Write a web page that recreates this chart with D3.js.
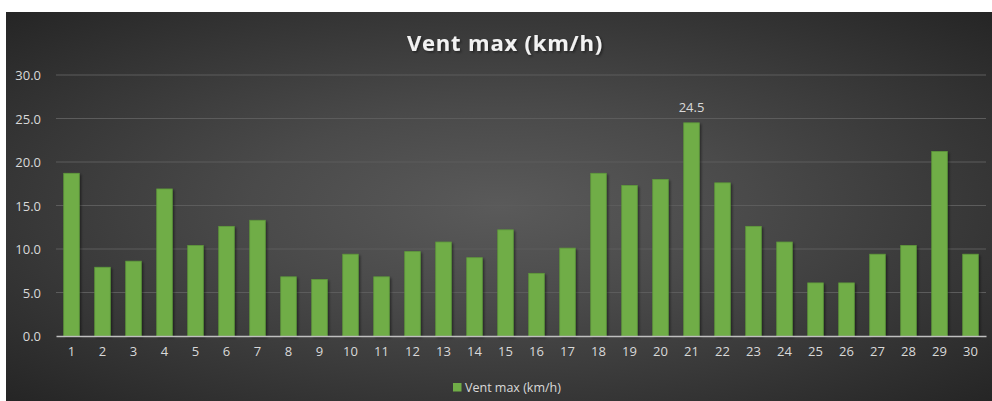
<!DOCTYPE html>
<html>
<head>
<meta charset="utf-8">
<script src="https://cdn.jsdelivr.net/npm/d3@7"></script>
<style>
  body { margin: 0; background: #fff; }
  svg { display: block; }
  text { font-family: "Open Sans", "Noto Sans", sans-serif; }
</style>
</head>
<body>
<svg></svg>
<script>
let width = 992;
let height = 401;

// days of the month and max wind (km/h)
let days = d3.range(1, 31).map(String);
let windMax = [18.7, 7.9, 8.6, 16.9, 10.4, 12.6, 13.3, 6.8, 6.5, 9.4,
               6.8, 9.7, 10.8, 9.0, 12.2, 7.2, 10.1, 18.7, 17.3, 18.0,
               24.5, 17.6, 12.6, 10.8, 6.1, 6.1, 9.4, 10.4, 21.2, 9.4];
let yTicks = [0, 5, 10, 15, 20, 25, 30];
let labelled = ["21"];
let seriesName = "Vent max (km/h)";

let svg = d3.select("svg")
            .attr("width", width)
            .attr("height", height);

let defs = svg.append("defs");
let grad = defs.append("radialGradient")
               .attr("id", "bg")
               .attr("cx", "50%").attr("cy", "50%").attr("r", "72%");
grad.append("stop").attr("offset", "0%").attr("stop-color", "#5a5a5a");
grad.append("stop").attr("offset", "35%").attr("stop-color", "#4a4a4a");
grad.append("stop").attr("offset", "100%").attr("stop-color", "#242424");

let shadow = defs.append("filter").attr("id", "shadow")
                 .attr("x", "-20%").attr("y", "-20%").attr("width", "160%").attr("height", "160%");
shadow.append("feDropShadow")
      .attr("dx", 1.5).attr("dy", 1.5).attr("stdDeviation", 1.2)
      .attr("flood-color", "#000").attr("flood-opacity", 0.45);

// chart area
svg.append("rect")
   .attr("x", 6).attr("y", 12)
   .attr("width", width - 6).attr("height", height - 12)
   .attr("fill", "url(#bg)");

let margin = { left: 56, right: 6, top: 75, bottom: 65 };

let xScale = d3.scaleBand()
               .domain(days)
               .range([margin.left, width - margin.right])
               .paddingInner(0.5)
               .paddingOuter(0.25);

let yScale = d3.scaleLinear()
               .domain([0, 30])
               .range([height - margin.bottom, margin.top]);

// gridlines
svg.append("g")
   .selectAll("line")
   .data(yTicks.slice(1))
   .enter()
   .append("line")
   .attr("x1", margin.left).attr("x2", width - margin.right)
   .attr("y1", (d) => yScale(d)).attr("y2", (d) => yScale(d))
   .attr("stroke", "#5c5c5c")
   .attr("stroke-width", 1);

// y axis
let yAxis = svg.append("g")
   .attr("transform", "translate(" + (margin.left - 12) + ",0)")
   .call(d3.axisLeft(yScale).tickValues(yTicks).tickFormat(d3.format(".1f")).tickSize(0));
yAxis.select(".domain").remove();
yAxis.selectAll("text")
     .attr("fill", "#d9d9d9")
     .attr("font-size", "13px")
     .attr("font-family", "'Open Sans', sans-serif")
     .attr("dy", "0.35em");

// bars
svg.append("g")
   .selectAll("rect")
   .data(windMax)
   .enter()
   .append("rect")
   .attr("x", (d, i) => xScale(days[i]))
   .attr("y", (d) => yScale(d))
   .attr("width", xScale.bandwidth())
   .attr("height", (d) => yScale(0) - yScale(d))
   .attr("fill", "#70ad47")
   .attr("stroke", "#5f9a3b")
   .attr("stroke-width", 0.8)
   .attr("filter", "url(#shadow)");

// x axis
let xAxis = svg.append("g")
   .attr("transform", "translate(0," + yScale(0) + ")")
   .call(d3.axisBottom(xScale).tickSize(0).tickPadding(11));
xAxis.select(".domain")
     .attr("stroke", "#bfbfbf")
     .attr("stroke-width", 1.5);
xAxis.selectAll("text")
     .attr("fill", "#d9d9d9")
     .attr("font-size", "13px")
     .attr("font-family", "'Open Sans', sans-serif");

// data label
svg.append("g")
   .selectAll("text")
   .data(windMax.filter((d, i) => labelled.includes(days[i])))
   .enter()
   .append("text")
   .attr("x", (d) => xScale(days[windMax.indexOf(d)]) + xScale.bandwidth() / 2)
   .attr("y", (d) => yScale(d) - 11)
   .attr("text-anchor", "middle")
   .attr("fill", "#d9d9d9")
   .attr("font-size", "13px")
   .text((d) => d.toFixed(1));

// title
svg.append("text")
   .attr("x", 505)
   .attr("y", 51)
   .attr("text-anchor", "middle")
   .attr("fill", "#f2f2f2")
   .attr("font-size", "22px")
   .attr("font-weight", "bold")
   .attr("letter-spacing", "0.8px")
   .attr("filter", "url(#shadow)")
   .text(seriesName);

// legend
let legend = svg.append("g").attr("transform", "translate(453,383)");
legend.append("rect")
      .attr("width", 8.5).attr("height", 8.5)
      .attr("fill", "#70ad47");
legend.append("text")
      .attr("x", 12).attr("y", 8.5)
      .attr("fill", "#d9d9d9")
      .attr("font-size", "12.5px")
      .text(seriesName);
</script>
</body>
</html>
